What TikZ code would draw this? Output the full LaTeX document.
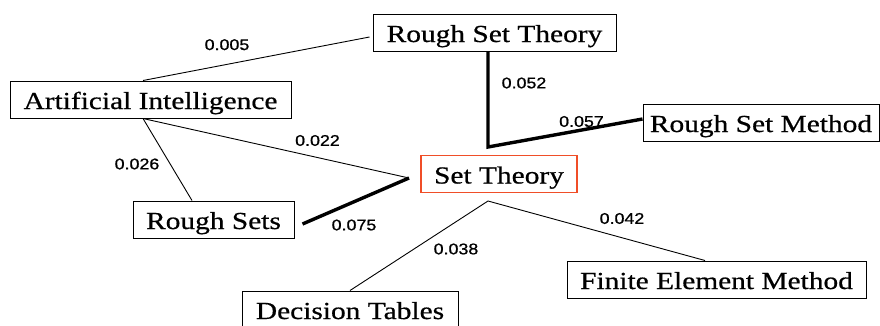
\documentclass[tikz,border=0pt]{standalone}
\usepackage{fontspec}
\newfontfamily\boxfont[FakeStretch=1.2,FakeBold=0.6]{Liberation Serif}
\newfontfamily\labfont[FakeStretch=1.15,FakeBold=0.9]{Liberation Sans}
\definecolor{stred}{RGB}{240,78,40}
\begin{document}
\begin{tikzpicture}[x=1pt,y=-1pt,
  term/.style={draw=black,line width=1pt,fill=white,inner sep=0pt,minimum height=37pt,
    text height=19pt,text depth=0pt,
    font=\boxfont\fontsize{24.5}{29}\selectfont},
  wt/.style={font=\labfont\fontsize{15.5}{18}\selectfont,inner sep=0pt},
  thin/.style={line width=0.9pt},
  heavy/.style={line width=3.4pt}]
\useasboundingbox (0,0) rectangle (880,325);
\node[term,minimum width=243pt] (rst) at (494.5,32.5) {Rough Set Theory};
\node[term,minimum width=281pt] (ai) at (150.5,99.5) {Artificial Intelligence};
\node[term,minimum width=236pt] (rsm) at (761,122.5) {Rough Set Method};
\node[term,minimum width=156pt,draw=stred,line width=1.4pt] (st) at (499,174) {Set Theory};
\node[term,minimum width=161pt] (rs) at (213.5,219.5) {Rough Sets};
\node[term,minimum width=216pt] (dt) at (350,309.5) {Decision Tables};
\node[term,minimum width=299pt] (fem) at (716.5,279.5) {Finite Element Method};

\coordinate (j1) at (409,178);
\coordinate (j2) at (488,147);
\coordinate (j3) at (488,201);

\draw[thin] ([xshift=-7.5pt]ai.north) -- ([xshift=-3pt,yshift=-4.5pt]rst.west);
\draw[thin] ([xshift=-7.5pt]ai.south) -- (j1);
\draw[thin] ([xshift=-7.5pt]ai.south) -- ([xshift=-21.5pt]rs.north);
\draw[heavy] ([xshift=8pt,yshift=-4.5pt]rs.east) -- (j1);
\draw[heavy] ([xshift=-6.5pt]rst.south) -- (j2) -- ([yshift=3.5pt]rsm.west);
\draw[thin] (dt.north) -- (j3) -- ([xshift=-11.5pt]fem.north);

\node[wt] (l1) at (227,44.7) {0.005};
\node[wt] (l2) at (317.5,140.5) {0.022};
\node[wt] (l3) at (137,164) {0.026};
\node[wt] (l4) at (354,225) {0.075};
\node[wt] (l5) at (524,83) {0.052};
\node[wt] (l6) at (581.5,121.5) {0.057};
\node[wt] (l7) at (456,249) {0.038};
\node[wt] (l8) at (622,218.5) {0.042};
\end{tikzpicture}
\end{document}
